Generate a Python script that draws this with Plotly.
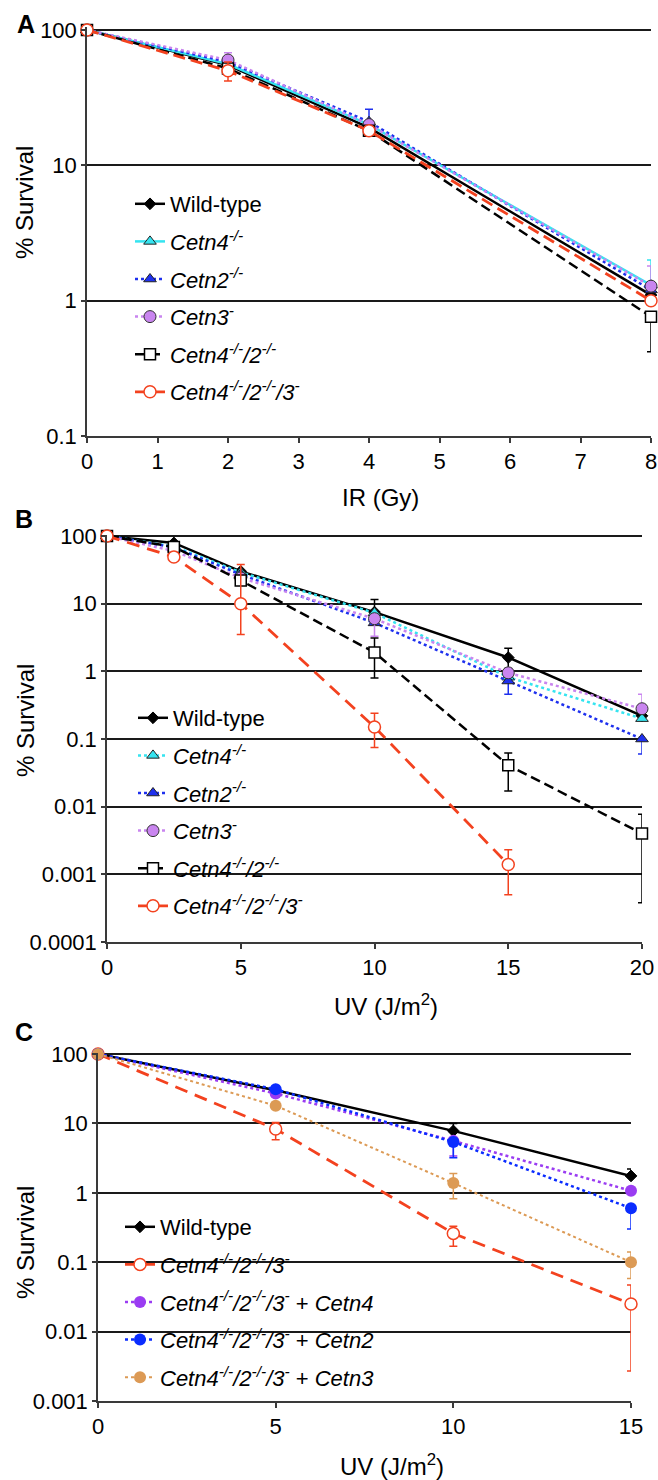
import math
import plotly.graph_objects as go

# ---------------- DATA ----------------
# Panel A: IR survival
ir_dose = [0, 2, 4, 8]
a_wt = [100, 55, 19, 1.1]
a_c4 = [100, 56, 20, 1.3]
a_c2 = [100, 58, 21, 1.2]
a_c3 = [100, 60, 20, 1.28]
a_c42 = [100, 52, 18, 0.76]
a_c423 = [100, 50, 18, 1.0]
a_wt_hi = [None, 62, None, None]
a_wt_lo = [None, 47, None, None]
a_c4_hi = [None, None, None, 2.0]
a_c4_lo = [None, None, None, None]
a_c2_hi = [None, None, 26, None]
a_c2_lo = [None, None, None, None]
a_c3_hi = [None, 68, None, 1.8]
a_c3_lo = [None, None, None, None]
a_c42_hi = [None, None, None, None]
a_c42_lo = [None, None, None, 0.42]
a_c423_hi = [None, 58, None, None]
a_c423_lo = [None, 42, None, None]

# Panel B: UV survival
uv_dose_b = [0, 2.5, 5, 10, 15, 20]
b_wt = [100, 79, 30, 7.5, 1.6, 0.22]
b_c4 = [100, 70, 29, 7.3, 0.82, 0.2]
b_c2 = [100, 68, 27, 5.2, 0.72, 0.1]
b_c3 = [100, 60, 24, 6.0, 0.95, 0.28]
b_c42 = [100, 69, 22, 1.9, 0.041, 0.004]
b_c423 = [100, 49, 10, 0.15, 0.0014, None]
b_wt_hi = [None, None, None, 11.5, 2.2, None]
b_wt_lo = [None, None, None, None, 1.1, None]
b_c4_hi = [None, None, None, None, None, None]
b_c4_lo = [None, None, None, None, None, None]
b_c2_hi = [None, None, None, None, None, None]
b_c2_lo = [None, None, None, None, 0.46, 0.06]
b_c3_hi = [None, None, None, None, None, 0.46]
b_c3_lo = [None, None, None, 3.3, None, None]
b_c42_hi = [None, None, None, 3.1, 0.062, 0.0077]
b_c42_lo = [None, None, None, 0.8, 0.017, 0.00038]
b_c423_hi = [None, None, 38, 0.24, 0.0023, None]
b_c423_lo = [None, None, 3.5, 0.075, 0.0005, None]

# Panel C: UV survival with complementation
uv_dose_c = [0, 5, 10, 15]
c_wt = [100, 30, 7.8, 1.75]
c_tko = [100, 8.3, 0.26, 0.025]
c_p4 = [100, 27, 5.6, 1.07]
c_p2 = [100, 31, 5.4, 0.6]
c_p3 = [100, 18, 1.38, 0.1]
c_wt_hi = [None, None, 10, 2.2]
c_wt_lo = [None, None, None, None]
c_tko_hi = [None, 10.3, 0.33, 0.047]
c_tko_lo = [None, 5.8, 0.17, 0.0027]
c_p4_hi = [None, None, None, None]
c_p4_lo = [None, None, 3.4, None]
c_p2_hi = [None, None, None, None]
c_p2_lo = [None, None, 3.2, 0.3]
c_p3_hi = [None, None, 1.9, 0.14]
c_p3_lo = [None, None, 0.82, 0.058]

# legend labels
lab_wt = "Wild-type"
lab_c4 = "<i>Cetn4<sup>-/-</sup></i>"
lab_c2 = "<i>Cetn2<sup>-/-</sup></i>"
lab_c3 = "<i>Cetn3<sup>-</sup></i>"
lab_c42 = "<i>Cetn4<sup>-/-</sup>/2<sup>-/-</sup></i>"
lab_c423 = "<i>Cetn4<sup>-/-</sup>/2<sup>-/-</sup>/3<sup>-</sup></i>"
lab_p4 = lab_c423 + " + <i>Cetn4</i>"
lab_p2 = lab_c423 + " + <i>Cetn2</i>"
lab_p3 = lab_c423 + " + <i>Cetn3</i>"

# ---------------- STYLE ----------------
FONT = "Arial, Liberation Sans, sans-serif"
W, H = 658, 1480
RED = "#f3421f"
CYAN = "#35e4f0"
BLUE = "#1e30ee"
VIOLET = "#c985ef"
PURPLE = "#9a3cf2"
BLUE2 = "#0a2cff"
ORANGE = "#dc9a55"


def err(y, hi, lo):
    plus = [(h - v) if (h is not None and v is not None) else float("nan") for v, h in zip(y, hi)]
    minus = [(v - l) if (l is not None and v is not None) else float("nan") for v, l in zip(y, lo)]
    return dict(type="data", symmetric=False, array=plus, arrayminus=minus,
                color=None, thickness=1.5, width=4)


fig = go.Figure()


def add(x, y, hi, lo, name, ax, leg, lcolor, dash, lw, msym, msize, mfill, mline, mlw, ecolor, group):
    e = err(y, hi, lo)
    e["color"] = ecolor
    fig.add_trace(go.Scatter(
        x=x, y=y, name=name, mode="lines+markers",
        xaxis="x" + ax, yaxis="y" + ax, legend=leg, legendgroup=group,
        line=dict(color=lcolor, width=lw, dash=dash),
        marker=dict(symbol=msym, size=msize, color=mfill, line=dict(color=mline, width=mlw)),
        error_y=e, cliponaxis=False, connectgaps=False,
    ))


# Panel A
add(ir_dose, a_wt, a_wt_hi, a_wt_lo, lab_wt, "", "legend", "black", "solid", 2.5, "diamond", 9, "black", "black", 1, "black", "a1")
add(ir_dose, a_c4, a_c4_hi, a_c4_lo, lab_c4, "", "legend", CYAN, "solid", 2.5, "triangle-up", 11, CYAN, "#222", 1, CYAN, "a2")
add(ir_dose, a_c2, a_c2_hi, a_c2_lo, lab_c2, "", "legend", BLUE, "dot", 2.5, "triangle-up", 11, BLUE, "#222", 1, BLUE, "a3")
add(ir_dose, a_c3, a_c3_hi, a_c3_lo, lab_c3, "", "legend", VIOLET, "dot", 2.5, "circle", 12, VIOLET, "#333", 1, VIOLET, "a4")
add(ir_dose, a_c42, a_c42_hi, a_c42_lo, lab_c42, "", "legend", "black", "10px,5px", 2.5, "square", 11, "white", "black", 1.5, "black", "a5")
add(ir_dose, a_c423, a_c423_hi, a_c423_lo, lab_c423, "", "legend", RED, "12px,6px", 2.8, "circle", 12, "white", RED, 1.5, RED, "a6")

# Panel B
add(uv_dose_b, b_wt, b_wt_hi, b_wt_lo, lab_wt, "2", "legend2", "black", "solid", 2.5, "diamond", 9, "black", "black", 1, "black", "b1")
add(uv_dose_b, b_c4, b_c4_hi, b_c4_lo, lab_c4, "2", "legend2", CYAN, "dot", 2.5, "triangle-up", 11, CYAN, "#222", 1, CYAN, "b2")
add(uv_dose_b, b_c2, b_c2_hi, b_c2_lo, lab_c2, "2", "legend2", BLUE, "dot", 2.5, "triangle-up", 11, BLUE, "#222", 1, BLUE, "b3")
add(uv_dose_b, b_c3, b_c3_hi, b_c3_lo, lab_c3, "2", "legend2", VIOLET, "dot", 2.5, "circle", 12, VIOLET, "#333", 1, VIOLET, "b4")
add(uv_dose_b, b_c42, b_c42_hi, b_c42_lo, lab_c42, "2", "legend2", "black", "10px,5px", 2.5, "square", 11, "white", "black", 1.5, "black", "b5")
add(uv_dose_b, b_c423, b_c423_hi, b_c423_lo, lab_c423, "2", "legend2", RED, "13px,8px", 2.8, "circle", 12, "white", RED, 1.5, RED, "b6")

# Panel C
add(uv_dose_c, c_wt, c_wt_hi, c_wt_lo, lab_wt, "3", "legend3", "black", "solid", 2.5, "diamond", 9, "black", "black", 1, "black", "c1")
add(uv_dose_c, c_tko, c_tko_hi, c_tko_lo, lab_c423, "3", "legend3", RED, "13px,8px", 2.8, "circle", 12, "white", RED, 1.5, RED, "c2")
add(uv_dose_c, c_p4, c_p4_hi, c_p4_lo, lab_p4, "3", "legend3", PURPLE, "dot", 2.5, "circle", 12, PURPLE, PURPLE, 0, PURPLE, "c3")
add(uv_dose_c, c_p2, c_p2_hi, c_p2_lo, lab_p2, "3", "legend3", BLUE2, "dot", 2.5, "circle", 12, BLUE2, BLUE2, 0, BLUE2, "c4")
add(uv_dose_c, c_p3, c_p3_hi, c_p3_lo, lab_p3, "3", "legend3", ORANGE, "dot", 2, "circle", 12, ORANGE, ORANGE, 0, ORANGE, "c5")


def px_x(v):
    return v / W


def px_y(v):
    return 1 - v / H


AXCOL = "#3a3a3a"
tickfont = dict(family=FONT, size=22, color="black")
EPS = 0.02  # small headroom so the top gridline (100) is drawn


def xaxis(domain, rng, dtick, anchor):
    return dict(domain=domain, range=rng, dtick=dtick, tick0=0, showgrid=False, zeroline=False,
                showline=True, linecolor=AXCOL, linewidth=1.5, ticks="outside", ticklen=5,
                tickwidth=1.5, tickcolor=AXCOL, tickfont=tickfont, anchor=anchor, automargin=False)


def yaxis(bottom_px, top_px, lo_exp, anchor):
    ppd = (bottom_px - top_px) / (2 - lo_exp)
    top_ext = top_px - EPS * ppd
    vals = [10 ** e for e in range(lo_exp, 3)]
    txt = [("%g" % v) if v >= 1 else ("%." + str(-int(round(math.log10(v)))) + "f") % v for v in vals]
    return dict(domain=[px_y(bottom_px), px_y(top_ext)], type="log", range=[lo_exp, 2 + EPS],
                tickvals=vals, ticktext=txt,
                showgrid=True, gridcolor="#1a1a1a", gridwidth=1.5, zeroline=False,
                showline=True, linecolor=AXCOL, linewidth=1.5, ticks="outside", ticklen=4,
                tickwidth=1.5, tickcolor=AXCOL, tickfont=tickfont, anchor=anchor, automargin=False)


legfont = dict(family=FONT, size=22, color="black")


def legend(xpx, ypx):
    return dict(x=px_x(xpx), y=px_y(ypx), xanchor="left", yanchor="top", bgcolor="rgba(0,0,0,0)",
                font=legfont, tracegroupgap=6, traceorder="grouped", borderwidth=0)


def cover(x0, x1, y0, y1):
    return dict(type="rect", xref="paper", yref="paper", x0=px_x(x0), x1=px_x(x1),
                y0=px_y(y1), y1=px_y(y0), fillcolor="white", line=dict(width=0), layer="between")


def ann(text, xpx, ypx, size, bold=False, angle=0):
    return dict(text=("<b>%s</b>" % text) if bold else text, x=px_x(xpx), y=px_y(ypx), xref="paper",
                yref="paper", showarrow=False, textangle=angle, xanchor="center", yanchor="middle",
                font=dict(family=FONT, size=size, color="black"))


fig.update_layout(
    width=W, height=H, margin=dict(l=0, r=0, t=0, b=0),
    paper_bgcolor="white", plot_bgcolor="white", showlegend=True,
    font=dict(family=FONT, color="black"),
    xaxis=xaxis([87 / W, 651 / W], [0, 8], 1, "y"),
    yaxis=yaxis(436, 30, -1, "x"),
    xaxis2=xaxis([107 / W, 642 / W], [0, 20], 5, "y2"),
    yaxis2=yaxis(942, 536, -4, "x2"),
    xaxis3=xaxis([98 / W, 631 / W], [0, 15], 5, "y3"),
    yaxis3=yaxis(1401, 1054, -3, "x3"),
    legend=legend(130, 183),
    legend2=legend(133, 697),
    legend3=legend(120, 1206),
    shapes=[cover(89, 328, 172, 434), cover(109, 320, 680, 940), cover(100, 402, 1203, 1399)],
    annotations=[
        ann("A", 26, 24, 25, bold=True),
        ann("B", 24, 519, 25, bold=True),
        ann("C", 24, 1032, 25, bold=True),
        ann("% Survival", 25, 203, 24, angle=-90),
        ann("% Survival", 25, 721, 24, angle=-90),
        ann("% Survival", 25, 1243, 24, angle=-90),
        ann("IR (Gy)", 381, 497, 24),
        ann("UV (J/m<sup>2</sup>)", 386, 1005, 24),
        ann("UV (J/m<sup>2</sup>)", 392, 1465, 24),
    ],
)

fig.write_html(
    "out.html",
    config={"displayModeBar": False},
    post_script="document.body.style.margin='0';document.body.style.padding='0';"
                "document.documentElement.style.overflow='hidden';document.body.style.overflow='hidden';",
)
